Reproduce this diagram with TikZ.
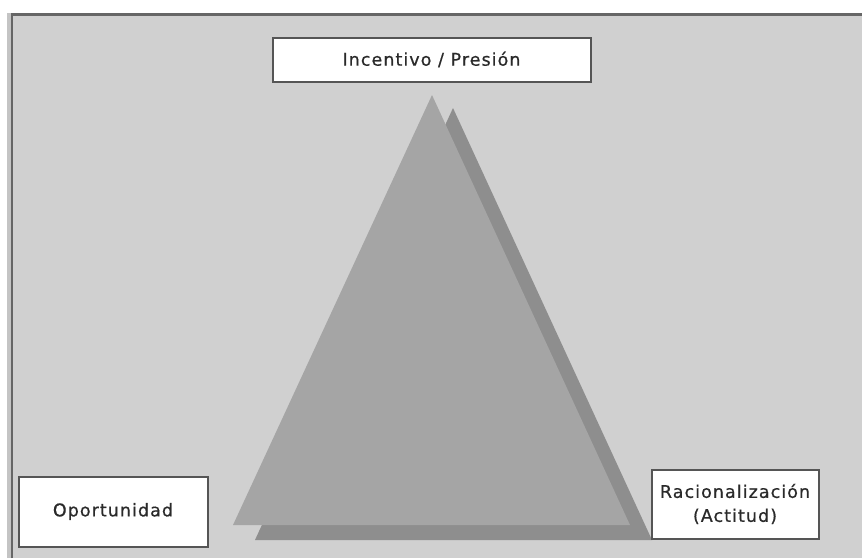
\documentclass[tikz,border=0pt]{standalone}
\usepackage{fontspec}
\setmainfont{DejaVu Sans}[LetterSpace=6,FakeBold=0.6]
\definecolor{bg}{HTML}{D0D0D0}
\definecolor{strip}{HTML}{C4C4C4}
\definecolor{frameline}{HTML}{666666}
\definecolor{front}{HTML}{A5A5A5}
\definecolor{back}{HTML}{8E8E8E}
\definecolor{boxline}{HTML}{555555}
\definecolor{txt}{HTML}{2A2A2A}
\begin{document}
\begin{tikzpicture}[x=1pt,y=-1pt,
  labelbox/.style={draw=boxline, line width=2pt, fill=white, text=txt,
    inner sep=0pt, align=center, font=\fontsize{17.5}{24}\selectfont}]
\useasboundingbox (0,0) rectangle (862,558);
\fill[white] (0,0) rectangle (862,558);
\fill[strip] (7,13) rectangle (11,558);
\fill[bg] (11,13) rectangle (862,558);
\draw[frameline, line width=2.5pt] (12,558) -- (12,14.5) -- (862,14.5);
% triangles
\fill[back] (453,108) -- (255,540) -- (652,540) -- cycle;
\fill[front] (432,95) -- (233,525) -- (630,525) -- cycle;
% boxes
\node[labelbox, minimum width=318pt, minimum height=44pt] (top) at (431.5,59.5) {Incentivo / Presión};
\node[labelbox, minimum width=189pt, minimum height=70pt] (opp) at (113,511.5) {Oportunidad};
\node[labelbox, minimum width=167pt, minimum height=69pt] (rac) at (735,504) {Racionalización\\(Actitud)};
\end{tikzpicture}
\end{document}
